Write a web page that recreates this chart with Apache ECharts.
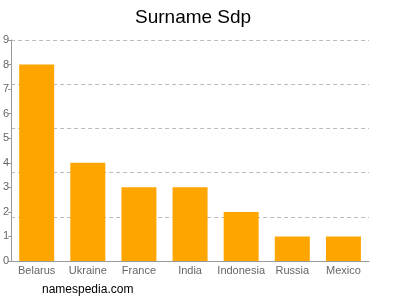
<!DOCTYPE html>
<html><head><meta charset="utf-8">
<script src="https://cdn.jsdelivr.net/npm/echarts@6/dist/echarts.min.js"></script>
<style>html,body{margin:0;padding:0;background:#fff}#c{width:400px;height:300px}</style>
</head><body><div id="c"></div>
<script>
var categories = ['Belarus','Ukraine','France','India','Indonesia','Russia','Mexico'];
var values = [8,4,3,3,2,1,1];
var chart = echarts.init(document.getElementById('c'));
chart.setOption({
  animation:false,
  title:{text:'Surname Sdp',left:130,top:3,textStyle:{fontFamily:'Liberation Sans, Arial',fontWeight:'normal',fontSize:19,color:'#000'}},
  graphic:[{type:'text',left:42,top:284,style:{text:'namespedia.com',font:'12px Liberation Sans, Arial',fill:'#000'}}],
  grid:{left:11,right:31,top:40,bottom:39},
  xAxis:{type:'category',data:categories,axisLine:{lineStyle:{color:'#999'}},axisTick:{show:false},
    axisLabel:{interval:0,color:'#666',fontSize:11,fontFamily:'Liberation Sans, Arial',margin:4}},
  yAxis:[{type:'value',min:0,max:9,interval:1,position:'left',axisLine:{show:true,lineStyle:{color:'#999'}},
    axisTick:{show:true,length:3,lineStyle:{color:'#999'}},splitLine:{show:false},
    axisLabel:{color:'#666',fontSize:11,fontFamily:'Liberation Sans, Arial',margin:2,verticalAlign:'middle'}},
   {type:'value',min:0,max:9,interval:1.8,position:'left',axisLine:{show:false},axisTick:{show:false},axisLabel:{show:false},
    splitLine:{show:true,lineStyle:{color:'#bbb',type:[4,3]}}}],
  series:[{type:'bar',data:values,yAxisIndex:0,barWidth:35,itemStyle:{color:'#FFA500'}}]
});
</script></body></html>
